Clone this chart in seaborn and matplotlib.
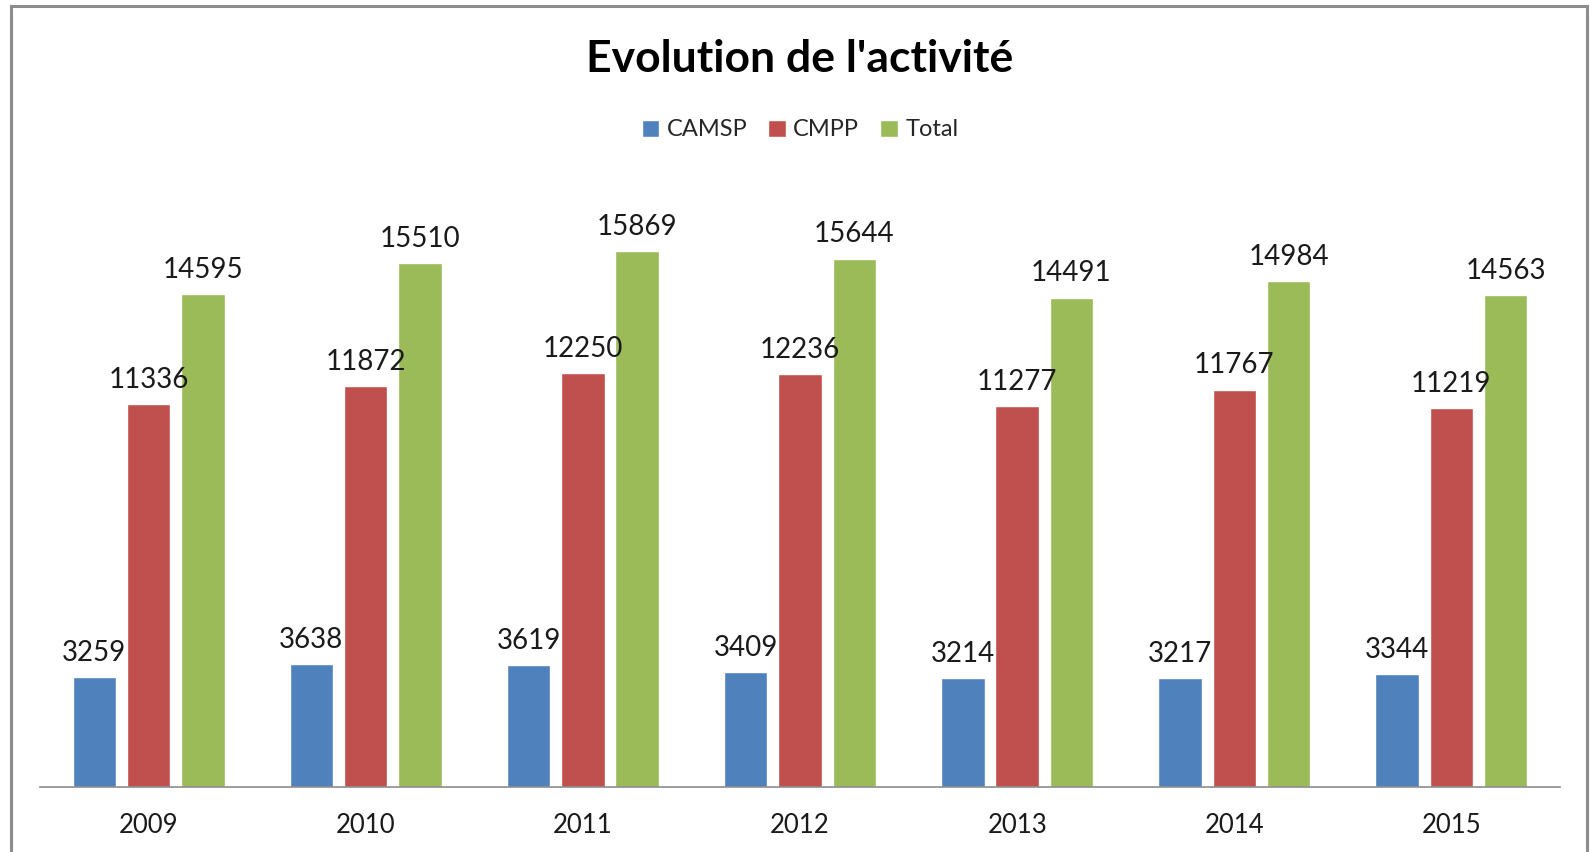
import pandas as pd
import seaborn as sns
import matplotlib.pyplot as plt
from matplotlib.patches import Rectangle

years = ['2009', '2010', '2011', '2012', '2013', '2014', '2015']
camsp = [3259, 3638, 3619, 3409, 3214, 3217, 3344]
cmpp = [11336, 11872, 12250, 12236, 11277, 11767, 11219]
total = [14595, 15510, 15869, 15644, 14491, 14984, 14563]
series = ['CAMSP', 'CMPP', 'Total']

# Excel 2007 default palette
colors = {'CAMSP': '#4F81BD', 'CMPP': '#C0504D', 'Total': '#9BBB59'}


def build_frame():
    rows = []
    for name, vals in zip(series, [camsp, cmpp, total]):
        for y, v in zip(years, vals):
            rows.append({'year': y, 'serie': name, 'value': v})
    return pd.DataFrame(rows)


def main():
    df = build_frame()
    sns.set_style('white')
    plt.rcParams['font.family'] = ['Lato', 'DejaVu Sans']

    fig = plt.figure(figsize=(15.91, 8.52), dpi=100)
    ax = fig.add_axes([40 / 1591, 1 - 787 / 852, 1520 / 1591, 608 / 852])
    sns.barplot(data=df, x='year', y='value', hue='serie', order=years,
                hue_order=series, palette=colors, width=0.75, gap=0.2,
                saturation=1, errorbar=None, ax=ax)

    for cont in ax.containers:
        ax.bar_label(cont, fmt='%d', padding=8, fontsize=20, color='#1a1a1a')

    ax.set_ylim(0, 18000)
    ax.set_xlim(-0.5, len(years) - 0.5)
    ax.set_xlabel('')
    ax.set_ylabel('')
    ax.set_yticks([])
    ax.tick_params(axis='x', length=0, labelsize=18.5, pad=19, colors='#1a1a1a')
    for s in ['top', 'left', 'right']:
        ax.spines[s].set_visible(False)
    ax.spines['bottom'].set_color('#8c8c8c')
    ax.spines['bottom'].set_linewidth(1.2)

    handles, labels = ax.get_legend_handles_labels()
    ax.legend(handles, labels, loc='center', bbox_to_anchor=(800 / 1591, 1 - 130 / 852),
              bbox_transform=fig.transFigure, ncol=3, frameon=False, fontsize=17,
              handlelength=0.75, handleheight=0.75, handletextpad=0.3,
              columnspacing=0.9)

    fig.text(800 / 1591, 1 - 59 / 852, "Evolution de l'activité", ha='center',
             va='center', fontsize=32, fontweight='bold', color='black')

    # chart frame like the spreadsheet export
    fig.patches.append(Rectangle((11 / 1591, -0.02), 1576 / 1591, 1.02 - 6 / 852,
                                 transform=fig.transFigure, fill=False,
                                 edgecolor='#8c8c8c', linewidth=2.2))

    fig.savefig('out.png', dpi=100)


if '__main__' == __name__:
    main()
